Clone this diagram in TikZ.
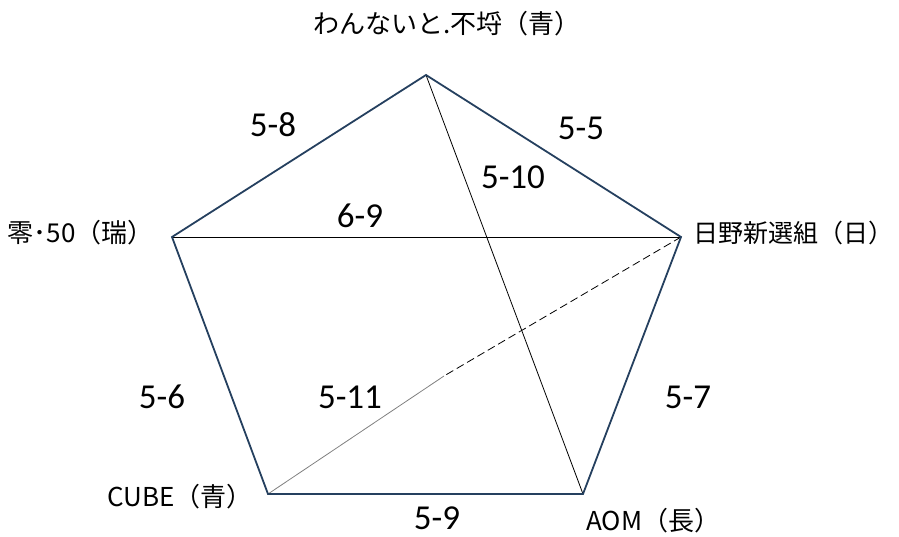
\documentclass[tikz,border=0pt]{standalone}
\usepackage{fontspec}
\setmainfont{Carlito}
\newfontfamily\jpfont{Noto Sans CJK JP}
\definecolor{edgeblue}{HTML}{25405F}

\begin{document}
\begin{tikzpicture}[x=1pt, y=-1pt,
    team/.style={font=\jpfont\fontsize{26}{29}\selectfont, inner sep=0pt},
    score/.style={font=\fontsize{35}{40}\selectfont, inner sep=0pt},
    outline/.style={color=edgeblue, line width=1.8pt, line join=miter},
    diag/.style={color=black, line width=0.8pt}]
  \useasboundingbox (0, 0) rectangle (899, 537);

  \coordinate (wan)  at (426, 75);
  \coordinate (hino) at (681, 237);
  \coordinate (aom)  at (583, 494);
  \coordinate (cube) at (268, 494);
  \coordinate (rei)  at (172, 237);
  \coordinate (mid)  at (444, 376);

  \draw[diag] (rei) -- (hino);
  \draw[diag] (wan) -- (aom);
  \draw[diag, dash pattern=on 8pt off 4pt] (hino) -- (mid);
  \draw[color=gray, line width=0.8pt] (mid) -- (cube);
  \draw[outline] (wan) -- (hino) -- (aom) -- (cube) -- (rei) -- cycle;

  \node[team] (twan)  at (447, 24)         {わんないと.不埒（青）};
  \node[team, anchor=west, font=\jpfont\fontsize{25}{29}\selectfont] (thino) at (693, 233) {日野新選組（日）};
  \node[team, anchor=east] (trei)  at (154, 233) {零･50（瑞）};
  \node[team] (tcube) at (180, 497)        {CUBE（青）};
  \node[team, anchor=west] (taom)  at (586, 521) {AOM（長）};

  \node[score] (s58)  at (273, 125) {5-8};
  \node[score] (s55)  at (581, 128) {5-5};
  \node[score] (s510) at (513, 177) {5-10};
  \node[score] (s69)  at (360, 216) {6-9};
  \node[score] (s56)  at (162, 397) {5-6};
  \node[score] (s511) at (350, 397) {5-11};
  \node[score] (s57)  at (688, 397) {5-7};
  \node[score] (s59)  at (437, 518) {5-9};

\end{tikzpicture}
\end{document}
